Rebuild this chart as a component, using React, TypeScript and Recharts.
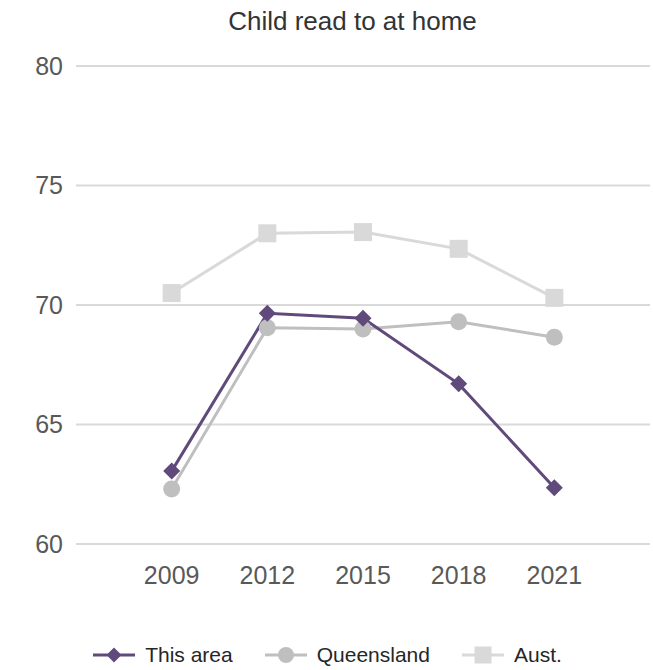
import { LineChart, Line, XAxis, YAxis, CartesianGrid, Legend } from 'recharts';

const years = [2009, 2012, 2015, 2018, 2021];
const thisArea = [63.05, 69.65, 69.45, 66.7, 62.35];
const queensland = [62.3, 69.05, 69.0, 69.3, 68.65];
const aust = [70.5, 73.0, 73.05, 72.35, 70.3];
const yTicks = [60, 65, 70, 75, 80];

const data = years.map((year, i) => ({
  year,
  thisArea: thisArea[i],
  queensland: queensland[i],
  aust: aust[i],
}));

const font = '"Liberation Sans", Arial, sans-serif';

const Diamond = ({ cx, cy, fill, size = 8.5 }: any) => (
  <path d={`M${cx},${cy - size}L${cx + size},${cy}L${cx},${cy + size}L${cx - size},${cy}Z`} fill={fill} />
);
const Circle = ({ cx, cy, fill, size = 8.5 }: any) => <circle cx={cx} cy={cy} r={size} fill={fill} />;
const Square = ({ cx, cy, fill, size = 9 }: any) => (
  <rect x={cx - size} y={cy - size} width={size * 2} height={size * 2} fill={fill} />
);

const legendItems = [
  { name: 'This area', color: '#604a7b', marker: 'diamond' },
  { name: 'Queensland', color: '#bfbfbf', marker: 'circle' },
  { name: 'Aust.', color: '#d9d9d9', marker: 'square' },
];

function LegendContent() {
  return (
    <div style={{ height: 30, display: 'flex', justifyContent: 'center', alignItems: 'center', fontFamily: font, fontSize: 21, color: '#262626', paddingLeft: 37 }}>
      {legendItems.map((it) => (
        <div key={it.name} style={{ display: 'flex', alignItems: 'center', marginRight: 32 }}>
          <svg width={42} height={20} style={{ marginRight: 10 }}>
            <line x1={0} y1={10} x2={42} y2={10} stroke={it.color} strokeWidth={3} />
            {it.marker === 'diamond' && <Diamond cx={21} cy={10} fill={it.color} size={7.5} />}
            {it.marker === 'circle' && <Circle cx={21} cy={10} fill={it.color} size={8} />}
            {it.marker === 'square' && <Square cx={21} cy={10} fill={it.color} size={8.5} />}
          </svg>
          <span>{it.name}</span>
        </div>
      ))}
    </div>
  );
}

export default function App() {
  return (
    <div style={{ position: 'absolute', left: 0, top: 0, width: 653, height: 670, background: '#fff' }}>
      <div style={{ position: 'absolute', top: 8, left: 0, width: 705, textAlign: 'center', fontFamily: font, fontSize: 26, lineHeight: '26px', color: '#333' }}>
        Child read to at home
      </div>
      <LineChart width={653} height={670} data={data} margin={{ top: 66, right: 3, left: 0, bottom: 0 }}>
        <CartesianGrid horizontal vertical={false} stroke="#d9d9d9" strokeWidth={2} />
        <XAxis
          dataKey="year"
          type="number"
          domain={[2006, 2024]}
          ticks={years}
          axisLine={false}
          tickLine={false}
          tickSize={0}
          tickMargin={22}
          height={96}
          tick={{ fill: '#595959', fontSize: 25, fontFamily: font }}
        />
        <YAxis
          domain={[60, 80]}
          ticks={yTicks}
          axisLine={false}
          tickLine={false}
          tickSize={0}
          tickMargin={13}
          width={76}
          tick={{ fill: '#595959', fontSize: 25, fontFamily: font }}
        />
        <Legend verticalAlign="bottom" content={<LegendContent />} />
        <Line dataKey="aust" name="Aust." stroke="#d9d9d9" strokeWidth={3} isAnimationActive={false} dot={<Square fill="#d9d9d9" />} activeDot={false} />
        <Line dataKey="queensland" name="Queensland" stroke="#bfbfbf" strokeWidth={3} isAnimationActive={false} dot={<Circle fill="#bfbfbf" />} activeDot={false} />
        <Line dataKey="thisArea" name="This area" stroke="#604a7b" strokeWidth={3} isAnimationActive={false} dot={<Diamond fill="#604a7b" />} activeDot={false} />
      </LineChart>
    </div>
  );
}
